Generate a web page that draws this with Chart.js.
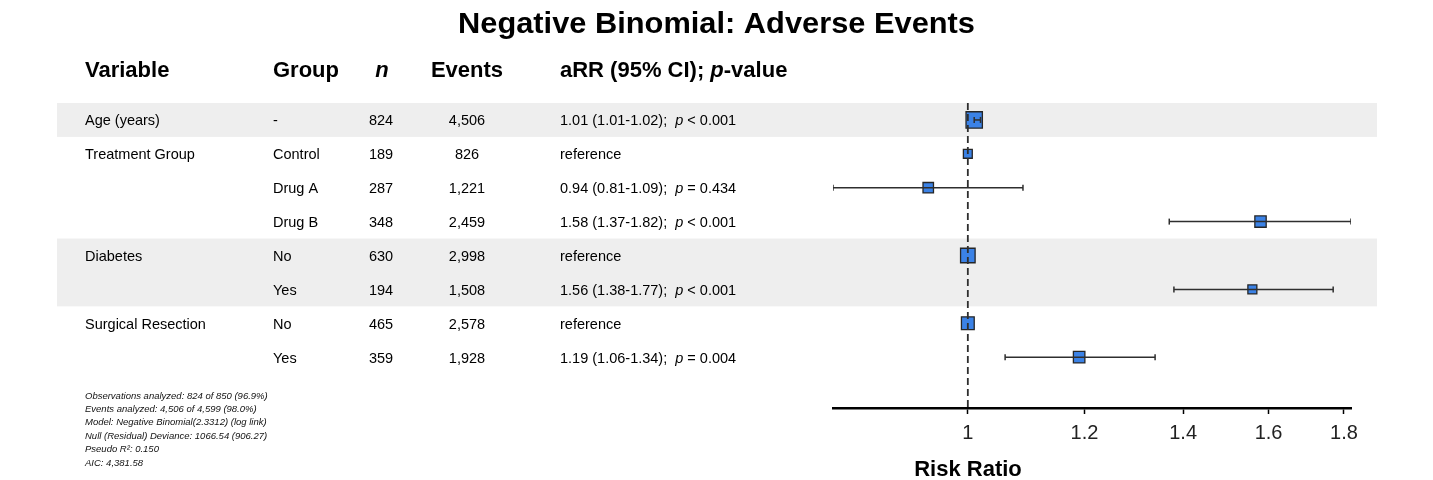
<!DOCTYPE html>
<html>
<head>
<meta charset="utf-8">
<script src="https://cdn.jsdelivr.net/npm/chart.js@4.4.1/dist/chart.umd.min.js"></script>
<style>
  html, body { margin: 0; padding: 0; background: #ffffff; }
  #wrap { width: 1433px; height: 480px; }
</style>
</head>
<body>
<div id="wrap"><canvas id="c" width="1433" height="480"></canvas></div>
<script>
// ---------------- data ----------------
const chartTitle = 'Negative Binomial: Adverse Events';
const variables = ['Age (years)', 'Treatment Group', '', '', 'Diabetes', '', 'Surgical Resection', ''];
const variableBlock = [0, 1, 1, 1, 2, 2, 3, 3];
const groups = ['-', 'Control', 'Drug A', 'Drug B', 'No', 'Yes', 'No', 'Yes'];
const nObs = [824, 189, 287, 348, 630, 194, 465, 359];
const eventCounts = [4506, 826, 1221, 2459, 2998, 1508, 2578, 1928];
const estimates = [1.01, 1, 0.94, 1.58, 1, 1.56, 1, 1.19];
const ciLow = [1.01, null, 0.81, 1.37, null, 1.38, null, 1.06];
const ciHigh = [1.02, null, 1.09, 1.82, null, 1.77, null, 1.34];
const pValues = ['< 0.001', null, '= 0.434', '< 0.001', null, '< 0.001', null, '= 0.004'];
const xTicks = [1, 1.2, 1.4, 1.6, 1.8];
const xMin = 0.81, xMax = 1.82;
const xTitle = 'Risk Ratio';
const footnotes = [
  'Observations analyzed: 824 of 850 (96.9%)',
  'Events analyzed: 4,506 of 4,599 (98.0%)',
  'Model: Negative Binomial(2.3312) (log link)',
  'Null (Residual) Deviance: 1066.54 (906.27)',
  'Pseudo R\u00B2: 0.150',
  'AIC: 4,381.58'
];

// ---------------- styling ----------------
const FONT = "'Liberation Sans', Arial, Helvetica, sans-serif";
const BOX_FILL = '#3b82e6';
const LINE_COL = '#2e2e2e';
const BAND_COL = '#eeeeee';

const rowCount = groups.length;

const squares = estimates.map((e, i) => ({ x: e, y: i }));
const whiskerSets = [];
estimates.forEach((e, i) => {
  if (ciLow[i] != null && ciHigh[i] != null) {
    whiskerSets.push({
      type: 'scatter',
      data: [{ x: ciLow[i], y: i }, { x: ciHigh[i], y: i }],
      showLine: true,
      borderColor: LINE_COL,
      borderWidth: 1.5,
      pointStyle: 'line',
      pointRotation: 90,
      pointRadius: 3,
      pointBorderColor: LINE_COL,
      pointBorderWidth: 1.5,
      order: 1
    });
  }
});

const tablePlugin = {
  id: 'forestTable',
  beforeDatasetsDraw(chart) {
    const ctx = chart.ctx;
    const y = chart.scales.y;
    ctx.save();
    ctx.fillStyle = BAND_COL;
    let start = 0;
    for (let i = 1; i <= rowCount; i++) {
      if (i === rowCount || variableBlock[i] !== variableBlock[start]) {
        if (variableBlock[start] % 2 === 0) {
          const top = y.getPixelForValue(start - 0.5);
          const bot = y.getPixelForValue(i - 0.5);
          ctx.fillRect(57, top, 1377 - 57, bot - top);
        }
        start = i;
      }
    }
    ctx.restore();
  },
  afterDraw(chart) {
    const ctx = chart.ctx;
    const y = chart.scales.y;
    ctx.save();
    ctx.fillStyle = '#000';
    ctx.textBaseline = 'alphabetic';

    // title
    ctx.font = 'bold 30px ' + FONT;
    ctx.textAlign = 'center';
    const tw = ctx.measureText(chartTitle).width;
    ctx.save();
    ctx.translate(716.5, 33);
    ctx.scale(Math.min(1.04, 517 / tw), 1);
    ctx.fillText(chartTitle, 0, 0);
    ctx.restore();

    // headers
    const hy = 77;
    const HB = 'bold 22px ' + FONT, HBI = 'italic bold 22px ' + FONT;
    ctx.font = HB;
    ctx.textAlign = 'left';
    ctx.fillText('Variable', 85, hy);
    ctx.fillText('Group', 273, hy);
    ctx.textAlign = 'center';
    ctx.font = HBI;
    ctx.fillText('n', 382, hy);
    ctx.font = HB;
    ctx.fillText('Events', 467, hy);
    ctx.textAlign = 'left';
    let hx = 560;
    const seg1 = 'aRR (95% CI); ';
    ctx.fillText(seg1, hx, hy); hx += ctx.measureText(seg1).width;
    ctx.font = HBI;
    ctx.fillText('p', hx, hy); hx += ctx.measureText('p').width;
    ctx.font = HB;
    ctx.fillText('-value', hx, hy);

    // body rows
    const bodyFont = '14.5px ' + FONT;
    const bodyItal = 'italic 14.5px ' + FONT;
    for (let i = 0; i < rowCount; i++) {
      const py = y.getPixelForValue(i) + 5.5;
      ctx.font = bodyFont;
      ctx.textAlign = 'left';
      ctx.fillText(variables[i], 85, py);
      ctx.fillText(groups[i], 273, py);
      ctx.textAlign = 'center';
      ctx.fillText(String(nObs[i]), 381, py);
      ctx.fillText(eventCounts[i].toLocaleString('en-US'), 467, py);
      ctx.textAlign = 'left';
      if (ciLow[i] == null) {
        ctx.fillText('reference', 560, py);
      } else {
        let tx = 560;
        const a = estimates[i].toFixed(2) + ' (' + ciLow[i].toFixed(2) + '-' + ciHigh[i].toFixed(2) + ');  ';
        ctx.fillText(a, tx, py); tx += ctx.measureText(a).width;
        ctx.font = bodyItal;
        ctx.fillText('p', tx, py); tx += ctx.measureText('p').width;
        ctx.font = bodyFont;
        ctx.fillText(' ' + pValues[i], tx, py);
      }
    }

    // footnotes
    ctx.font = 'italic 9.5px ' + FONT;
    ctx.fillStyle = '#111';
    footnotes.forEach((t, k) => ctx.fillText(t, 85, 398.5 + k * 13.4));

    // x-axis title
    ctx.fillStyle = '#000';
    ctx.font = 'bold 22px ' + FONT;
    ctx.textAlign = 'center';
    ctx.fillText(xTitle, 968, 476);
    ctx.restore();
  }
};

new Chart(document.getElementById('c'), {
  type: 'scatter',
  data: {
    datasets: [
      {
        data: [{ x: 1, y: -0.5 }, { x: 1, y: rowCount + 0.5 }],
        showLine: true,
        borderColor: LINE_COL,
        borderWidth: 1.8,
        borderDash: [7, 4],
        pointRadius: 0,
        order: 0
      },
      ...whiskerSets,
      {
        data: squares,
        pointStyle: 'rect',
        pointRadius: squares.map((p, i) => (2 + 0.5 * Math.sqrt(nObs[i])) / Math.SQRT2),
        backgroundColor: BOX_FILL,
        borderColor: '#262626',
        borderWidth: 1.3,
        order: 2
      }
    ]
  },
  options: {
    responsive: false,
    animation: false,
    events: [],
    devicePixelRatio: 1,
    layout: { padding: { left: 833, right: 82, top: 103, bottom: 0 } },
    plugins: {
      legend: { display: false },
      tooltip: { enabled: false },
      title: { display: false }
    },
    scales: {
      x: {
        type: 'logarithmic',
        min: xMin,
        max: xMax,
        afterBuildTicks(scale) { scale.ticks = xTicks.map(v => ({ value: v })); },
        afterFit(scale) { scale.height = 72; },
        ticks: {
          callback: v => String(v),
          color: '#222',
          font: { family: FONT, size: 20 },
          padding: 7,
          maxRotation: 0,
          autoSkip: false
        },
        grid: {
          display: true,
          drawOnChartArea: false,
          drawTicks: true,
          tickLength: 6,
          tickColor: '#000',
          tickWidth: 1.5
        },
        border: { display: true, color: '#000', width: 2.5 }
      },
      y: {
        type: 'linear',
        reverse: true,
        min: -0.5,
        max: rowCount + 0.5,
        display: false
      }
    }
  },
  plugins: [tablePlugin]
});
</script>
</body>
</html>
